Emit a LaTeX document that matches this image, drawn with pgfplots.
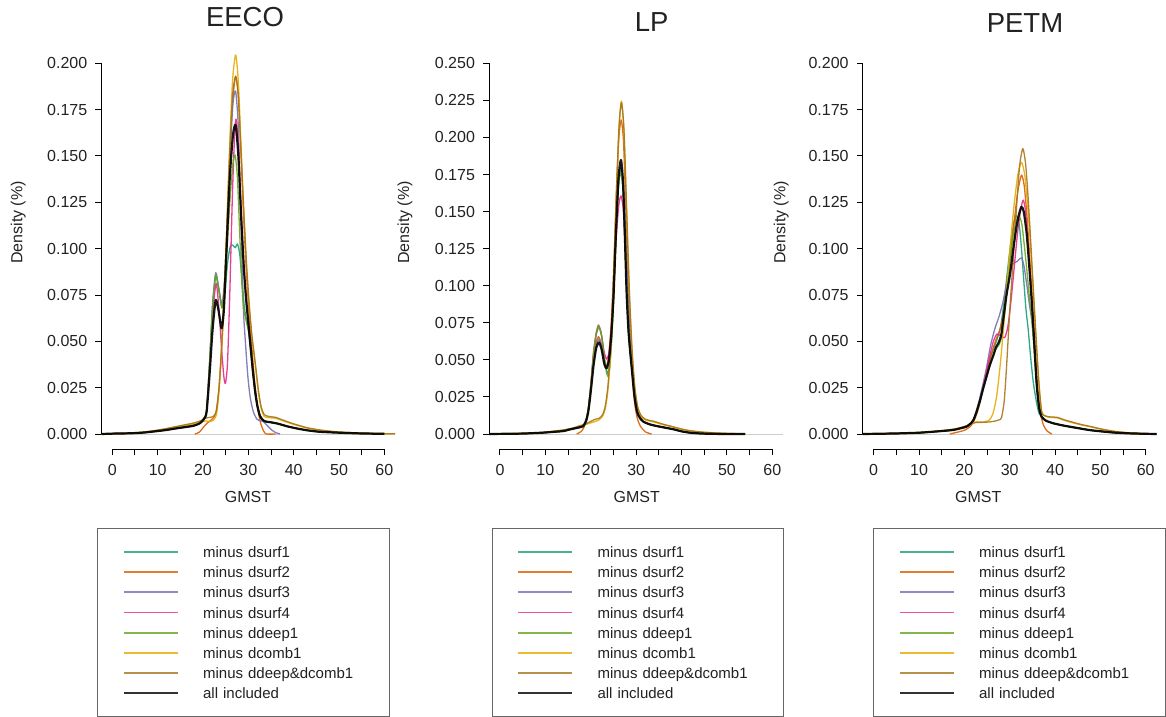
\documentclass[border=0pt]{standalone}
\usepackage{fontspec}
\setmainfont{Liberation Sans}
\usepackage{pgfplots}
\pgfplotsset{compat=1.18}
\definecolor{d1}{HTML}{1B9E77}
\definecolor{d2}{HTML}{D95F02}
\definecolor{d3}{HTML}{7570B3}
\definecolor{d4}{HTML}{E7298A}
\definecolor{d5}{HTML}{66A61E}
\definecolor{d6}{HTML}{E6AB02}
\definecolor{d7}{HTML}{A6761D}
\definecolor{txt}{HTML}{222222}
\pgfplotsset{
 rp/.style={
  scale only axis, height=408pt, anchor=south west,
  xmin=-2.4, xmax=62.4,
  axis x line*=bottom, axis y line*=left,
  axis line style={draw=none},
  tick style={draw=black, line width=1pt},
  tick align=outside,
  major tick length=6pt, minor tick length=6pt,
  xtick={0,10,20,30,40,50,60}, minor xtick={5,15,25,35,45,55},
  scaled y ticks=false,
  ticklabel style={font=\fontsize{16}{19}\selectfont, text=txt, inner sep=0pt},
  xticklabel style={yshift=-8.5pt},
  yticklabel style={xshift=-8pt, /pgf/number format/.cd, fixed, fixed zerofill, precision=3},
  /pgf/number format/assume math mode=true,
  xlabel={GMST}, ylabel={Density (\%)},
  clip=false,
  legend cell align=left,
  legend style={anchor=north west, draw=black!60, line width=0.9pt,
    inner xsep=0pt, inner ysep=16pt, row sep=5.2pt, column sep=24.5pt,
    font=\fontsize{15}{18}\selectfont, text=txt,
    nodes={inner sep=0pt, text height=13pt, text depth=2pt, text width=186pt, align=left}},
  legend image code/.code={\path[draw=none,fill=none] (0pt,-7.5pt) rectangle (80pt,7.5pt);
     \draw[#1, line width=1.8pt, opacity=0.8] (26pt,0pt) -- (80pt,0pt);},
  every axis plot/.append style={smooth, tension=0.4, line width=1.3pt, opacity=0.9, line join=round},
 }
}
\begin{document}
\begin{tikzpicture}
\useasboundingbox (0,0) rectangle (1166pt,-716pt);
%%%%%%%%%%%%%%%%%%%%%%%% EECO
\begin{axis}[rp, at={(101.45pt,-449.3pt)}, width=293.76pt,
  ymin=-0.008255, ymax=0.21187,
  ytick={0,0.025,0.05,0.075,0.1,0.125,0.15,0.175,0.2},
  title={EECO},
  every axis title/.style={at={(axis description cs:0.4887,1.0583)}, anchor=center, font=\fontsize{27.5}{32}\selectfont, text=txt},
  every axis x label/.style={at={(axis description cs:0.499,-0.116)}, anchor=center, font=\fontsize{16}{19}\selectfont, text=txt},
  every axis y label/.style={at={(axis description cs:-0.283,0.556)}, rotate=90, anchor=center, font=\fontsize{16}{19}\selectfont, text=txt},
  legend style={at={(axis description cs:-0.0141,-0.1929)}}]
\addplot[gray!45, line width=0.8pt, forget plot] coordinates {(-2.4,0) (62.4,0)};
% minus dsurf1
\addplot[d1] coordinates {(-2.4,0)(0,0.0002)(4,0.0004)(7,0.0008)(10,0.0017)(12,0.0023)(14,0.0032)(16,0.004)(18,0.0048)(19.3,0.006)(20.2,0.0085)(20.8,0.013)(21.5,0.04)(22.1,0.068)(22.8,0.0855)(23.4,0.079)(24.2,0.068)(24.8,0.075)(25.4,0.092)(26.0,0.101)(26.5,0.102)(27.1,0.1005)(27.6,0.1025)(28.1,0.097)(28.6,0.083)(29.1,0.069)(29.6,0.061)(30.1,0.055)(30.6,0.044)(31.1,0.032)(31.6,0.021)(32.1,0.014)(32.7,0.009)(33.5,0.007)(35,0.0063)(36.5,0.0056)(38.5,0.0042)(40.7,0.003)(43,0.002)(45.8,0.0012)(50.2,0.0007)(55,0.0003)(60,0.0001)};
% minus dsurf2
\addplot[d2] coordinates {(18.2,0)(19.2,0.001)(20.2,0.004)(21,0.006)(22,0.008)(22.8,0.011)(23.5,0.024)(24.2,0.05)(25,0.09)(25.8,0.14)(26.5,0.178)(27.2,0.193)(27.8,0.182)(28.4,0.15)(29.0,0.115)(29.6,0.086)(30.2,0.064)(30.8,0.046)(31.4,0.028)(32.0,0.015)(32.7,0.006)(33.4,0.0015)(34,0)(36,0)};
% minus dsurf3
\addplot[d3] coordinates {(-2.4,0)(0,0.0002)(4,0.0004)(7,0.0008)(10,0.0016)(12,0.0022)(14,0.003)(16,0.0038)(18,0.0046)(19.3,0.0059)(20.2,0.0085)(20.8,0.013)(21.5,0.041)(22.1,0.07)(22.8,0.087)(23.4,0.08)(24.2,0.07)(24.8,0.085)(25.4,0.115)(26.0,0.152)(26.6,0.178)(27.2,0.185)(27.8,0.165)(28.4,0.112)(28.9,0.068)(29.4,0.048)(29.9,0.031)(30.4,0.02)(31.1,0.012)(31.9,0.008)(32.6,0.0072)(33.3,0.0068)(34,0.005)(35,0.0025)(36,0.0008)(37,0)};
% minus dsurf4
\addplot[d4] coordinates {(-2.4,0)(0,0.0002)(4,0.0004)(7,0.0008)(10,0.0016)(12,0.0022)(14,0.003)(16,0.0037)(18,0.0045)(19.3,0.0058)(20.2,0.008)(20.8,0.012)(21.5,0.036)(22.2,0.066)(22.9,0.0813)(23.5,0.068)(24.1,0.046)(24.6,0.031)(24.95,0.0273)(25.4,0.038)(25.9,0.075)(26.5,0.13)(27.0,0.163)(27.3,0.1698)(27.8,0.156)(28.4,0.122)(29.0,0.092)(29.5,0.075)(30.0,0.061)(30.5,0.048)(31.0,0.035)(31.5,0.024)(32.0,0.016)(32.6,0.01)(33.5,0.007)(35,0.0063)(36.5,0.0056)(38.5,0.0042)(40.7,0.003)(43,0.002)(45.8,0.0012)(50.2,0.0007)(55,0.0003)(60,0.0001)};
% minus ddeep1
\addplot[d5] coordinates {(-2.4,0)(0,0.0002)(4,0.0004)(7,0.0008)(10,0.0017)(12,0.0023)(14,0.0032)(16,0.004)(18,0.0048)(19.3,0.006)(20.2,0.0085)(20.8,0.013)(21.5,0.04)(22.1,0.068)(22.8,0.086)(23.4,0.079)(24.2,0.068)(24.8,0.08)(25.4,0.104)(26.0,0.128)(26.6,0.146)(27.1,0.1505)(27.6,0.138)(28.1,0.108)(28.6,0.08)(29.0,0.067)(29.4,0.0625)(30.0,0.056)(30.5,0.045)(31.0,0.033)(31.5,0.022)(32.0,0.015)(32.6,0.0095)(33.5,0.007)(35,0.0063)(36.5,0.0056)(38.5,0.0042)(40.7,0.003)(43,0.002)(45.8,0.0012)(50.2,0.0007)(55,0.0003)(60,0.0001)};
% minus dcomb1
\addplot[d6] coordinates {(-2.4,0)(0,0.0002)(4,0.0005)(7,0.001)(10,0.002)(12,0.0028)(14,0.0038)(16,0.0046)(18,0.0055)(19.5,0.0065)(20.5,0.007)(21.5,0.0068)(22.3,0.0075)(23,0.011)(23.6,0.025)(24.2,0.05)(25,0.095)(25.8,0.15)(26.5,0.19)(27.2,0.2045)(27.8,0.19)(28.4,0.155)(29,0.12)(29.6,0.09)(30.2,0.068)(30.8,0.052)(31.5,0.038)(32.2,0.023)(32.8,0.014)(33.5,0.0095)(34.5,0.0088)(36,0.0085)(38,0.0068)(40,0.0052)(43,0.0032)(46,0.002)(50,0.001)(55,0.0005)(60,0.0002)(62.4,0.0001)};
% minus ddeep&dcomb1
\addplot[d7] coordinates {(-2.4,0)(0,0.0002)(4,0.0005)(7,0.0011)(10,0.0021)(12,0.003)(14,0.004)(16,0.005)(18,0.006)(19.5,0.0072)(20.5,0.0085)(21.5,0.009)(22.3,0.0095)(23,0.013)(23.6,0.027)(24.2,0.052)(25,0.095)(25.8,0.147)(26.5,0.182)(27.2,0.193)(27.8,0.182)(28.4,0.152)(29,0.12)(29.6,0.092)(30.2,0.07)(30.8,0.053)(31.5,0.039)(32.2,0.024)(32.8,0.015)(33.5,0.0105)(34.5,0.0095)(36,0.009)(38,0.0072)(40,0.0055)(43,0.0034)(46,0.0021)(50,0.0011)(55,0.0005)(60,0.0002)(62.4,0.0001)};
% all included
\addplot[black, line width=2.2pt] coordinates {(-2.4,0)(0,0.0002)(4,0.0004)(7,0.0008)(10,0.0016)(12,0.0022)(14,0.003)(16,0.0037)(18,0.0045)(19.3,0.0058)(20.2,0.008)(20.8,0.012)(21.5,0.034)(22.1,0.056)(22.8,0.0723)(23.4,0.067)(24.1,0.057)(24.6,0.067)(25.2,0.100)(25.9,0.138)(26.6,0.161)(27.2,0.1667)(27.8,0.150)(28.4,0.118)(29.0,0.090)(29.5,0.073)(30.0,0.060)(30.5,0.047)(31.0,0.034)(31.5,0.023)(32.0,0.015)(32.6,0.0095)(33.5,0.007)(35,0.0063)(36.5,0.0056)(38.5,0.0042)(40.7,0.003)(43,0.002)(45.8,0.0012)(50.2,0.0007)(55,0.0003)(60,0.0001)};
\legend{minus dsurf1,minus dsurf2,minus dsurf3,minus dsurf4,minus ddeep1,minus dcomb1,minus ddeep\&dcomb1,all included}
\draw[black, line width=1pt] (axis cs:-2.4,0) -- (axis cs:-2.4,0.2);
\draw[black, line width=1pt] (axis cs:0,-0.008255) -- (axis cs:60,-0.008255);
\end{axis}
%%%%%%%%%%%%%%%%%%%%%%%% LP
\begin{axis}[rp, at={(489.1pt,-449.3pt)}, width=294.1pt,
  ymin=-0.010318, ymax=0.264837,
  ytick={0,0.025,0.05,0.075,0.1,0.125,0.15,0.175,0.2,0.225,0.25},
  title={LP},
  every axis title/.style={at={(axis description cs:0.553,1.0473)}, anchor=center, font=\fontsize{27.5}{32}\selectfont, text=txt},
  every axis x label/.style={at={(axis description cs:0.502,-0.116)}, anchor=center, font=\fontsize{16}{19}\selectfont, text=txt},
  every axis y label/.style={at={(axis description cs:-0.286,0.556)}, rotate=90, anchor=center, font=\fontsize{16}{19}\selectfont, text=txt},
  legend style={at={(axis description cs:0.0088,-0.1929)}}]
\addplot[gray!45, line width=0.8pt, forget plot] coordinates {(-2.4,0) (62.4,0)};
% minus dsurf1
\addplot[d1] coordinates {(-2.4,0)(0,0.0001)(5,0.0003)(9.4,0.0009)(12,0.0015)(14,0.002)(15,0.0028)(16,0.0035)(17.5,0.0045)(18.35,0.0055)(19,0.01)(19.5,0.018)(20.05,0.034)(20.6,0.053)(21.2,0.067)(21.8,0.072)(22.4,0.066)(23,0.052)(23.6,0.041)(24.1,0.046)(24.6,0.066)(25.1,0.098)(25.6,0.14)(26.2,0.172)(26.7,0.179)(27.2,0.16)(27.6,0.125)(28,0.09)(28.4,0.066)(28.8,0.052)(29.2,0.04)(29.7,0.025)(30.3,0.015)(30.9,0.011)(31.6,0.0083)(33,0.0065)(34.5,0.0054)(36,0.0045)(38.2,0.0032)(40,0.0018)(41.85,0.0009)(44,0.0004)(47,0.0001)(54,0)};
% minus dsurf2
\addplot[d2] coordinates {(16.9,0)(18,0.002)(18.7,0.006)(19.3,0.013)(19.9,0.028)(20.5,0.048)(21.1,0.061)(21.7,0.0656)(22.3,0.061)(22.9,0.05)(23.5,0.046)(24,0.054)(24.5,0.075)(25.1,0.115)(25.7,0.168)(26.2,0.2)(26.7,0.2118)(27.2,0.198)(27.7,0.155)(28.2,0.105)(28.7,0.065)(29.2,0.038)(29.7,0.02)(30.3,0.01)(31,0.005)(32,0.0015)(33.4,0)};
% minus dsurf3
\addplot[d3] coordinates {(-2.4,0)(0,0.0001)(5,0.0003)(9.4,0.0009)(12,0.0015)(14,0.002)(15,0.0028)(16,0.0035)(17.5,0.0045)(18.35,0.0054)(19,0.009)(19.5,0.016)(20.05,0.031)(20.6,0.048)(21.2,0.06)(21.8,0.064)(22.4,0.059)(23,0.048)(23.5,0.045)(24,0.05)(24.5,0.066)(25,0.092)(25.5,0.13)(26.1,0.168)(26.75,0.179)(27.3,0.165)(27.8,0.125)(28.3,0.088)(28.8,0.06)(29.3,0.038)(29.8,0.022)(30.4,0.013)(31,0.0095)(31.6,0.0083)(33,0.0065)(34.5,0.0054)(36,0.0045)(38.2,0.0032)(40,0.0018)(41.85,0.0009)(44,0.0004)(47,0.0001)(54,0)};
% minus dsurf4
\addplot[d4] coordinates {(-2.4,0)(0,0.0001)(5,0.0003)(9.4,0.0009)(12,0.0015)(14,0.002)(15,0.0028)(16,0.0035)(17.5,0.0045)(18.35,0.0055)(19,0.01)(19.5,0.018)(20.05,0.035)(20.6,0.055)(21.2,0.068)(21.7,0.0735)(22.3,0.068)(22.9,0.056)(23.5,0.0505)(24,0.055)(24.5,0.07)(25,0.095)(25.6,0.132)(26.2,0.155)(26.7,0.1605)(27.2,0.15)(27.6,0.122)(28,0.09)(28.4,0.066)(28.8,0.052)(29.2,0.04)(29.7,0.025)(30.3,0.015)(30.9,0.011)(31.6,0.0083)(33,0.0065)(34.5,0.0054)(36,0.0045)(38.2,0.0032)(40,0.0018)(41.85,0.0009)(44,0.0004)(47,0.0001)(54,0)};
% minus ddeep1
\addplot[d5] coordinates {(-2.4,0)(0,0.0001)(5,0.0003)(9.4,0.0009)(12,0.0015)(14,0.002)(15,0.0028)(16,0.0035)(17.5,0.0045)(18.35,0.0055)(19,0.01)(19.5,0.018)(20.05,0.034)(20.6,0.054)(21.2,0.068)(21.75,0.073)(22.4,0.066)(23,0.05)(23.7,0.039)(24.2,0.045)(24.7,0.068)(25.2,0.103)(25.7,0.145)(26.2,0.17)(26.7,0.1758)(27.2,0.16)(27.6,0.125)(28,0.09)(28.4,0.066)(28.8,0.052)(29.2,0.04)(29.7,0.025)(30.3,0.015)(30.9,0.011)(31.6,0.0083)(33,0.0065)(34.5,0.0054)(36,0.0045)(38.2,0.0032)(40,0.0018)(41.85,0.0009)(44,0.0004)(47,0.0001)(54,0)};
% minus dcomb1
\addplot[d6] coordinates {(-2.4,0)(0,0.0001)(5,0.0004)(9.4,0.001)(12,0.0018)(14,0.0026)(16,0.0038)(17.5,0.005)(19,0.0065)(20,0.0075)(21,0.0085)(21.8,0.0095)(22.6,0.012)(23.2,0.017)(23.8,0.03)(24.4,0.056)(25,0.1)(25.6,0.155)(26.2,0.205)(26.75,0.2245)(27.3,0.205)(27.9,0.15)(28.5,0.095)(29.1,0.055)(29.7,0.03)(30.3,0.018)(31,0.012)(32,0.0095)(34,0.008)(36,0.0062)(38,0.0048)(40,0.0032)(42,0.0021)(45,0.0011)(50,0.0004)(54,0.0001)};
% minus ddeep&dcomb1
\addplot[d7] coordinates {(-2.4,0)(0,0.0001)(5,0.0004)(9.4,0.0011)(12,0.002)(14,0.0028)(16,0.004)(17.5,0.0055)(19,0.007)(20,0.0085)(21,0.01)(21.8,0.0105)(22.6,0.013)(23.2,0.019)(23.8,0.033)(24.4,0.06)(25,0.103)(25.6,0.158)(26.2,0.206)(26.75,0.2235)(27.3,0.206)(27.9,0.152)(28.5,0.097)(29.1,0.057)(29.7,0.032)(30.3,0.019)(31,0.013)(32,0.01)(34,0.0085)(36,0.0066)(38,0.005)(40,0.0034)(42,0.0022)(45,0.0012)(50,0.0004)(54,0.0001)};
% all included
\addplot[black, line width=2.2pt] coordinates {(-2.4,0)(0,0.0001)(5,0.0003)(9.4,0.0009)(12,0.0015)(14,0.002)(15,0.0028)(16,0.0035)(17.5,0.0045)(18.35,0.0054)(19,0.009)(19.5,0.016)(20.05,0.03)(20.6,0.046)(21.2,0.058)(21.8,0.0618)(22.4,0.057)(23,0.047)(23.5,0.0443)(24,0.05)(24.5,0.066)(25,0.092)(25.5,0.132)(26.1,0.172)(26.65,0.1848)(27.1,0.170)(27.5,0.135)(27.9,0.095)(28.3,0.07)(28.7,0.055)(29.1,0.042)(29.6,0.026)(30.2,0.015)(30.8,0.011)(31.6,0.0083)(33,0.0065)(34.5,0.0054)(36,0.0045)(38.2,0.0032)(40,0.0018)(41.85,0.0009)(44,0.0004)(47,0.0001)(54,0)};
\legend{minus dsurf1,minus dsurf2,minus dsurf3,minus dsurf4,minus ddeep1,minus dcomb1,minus ddeep\&dcomb1,all included}
\draw[black, line width=1pt] (axis cs:-2.4,0) -- (axis cs:-2.4,0.25);
\draw[black, line width=1pt] (axis cs:0,-0.010318) -- (axis cs:60,-0.010318);
\end{axis}
%%%%%%%%%%%%%%%%%%%%%%%% PETM
\begin{axis}[rp, at={(862.8pt,-449.3pt)}, width=293.76pt,
  ymin=-0.008255, ymax=0.21187,
  ytick={0,0.025,0.05,0.075,0.1,0.125,0.15,0.175,0.2},
  title={PETM},
  every axis title/.style={at={(axis description cs:0.552,1.044)}, anchor=center, font=\fontsize{27.5}{32}\selectfont, text=txt},
  every axis x label/.style={at={(axis description cs:0.393,-0.116)}, anchor=center, font=\fontsize{16}{19}\selectfont, text=txt},
  every axis y label/.style={at={(axis description cs:-0.278,0.556)}, rotate=90, anchor=center, font=\fontsize{16}{19}\selectfont, text=txt},
  legend style={at={(axis description cs:0.0357,-0.1929)}}]
\addplot[gray!45, line width=0.8pt, forget plot] coordinates {(-2.4,0) (62.4,0)};
% minus dsurf1
\addplot[d1] coordinates {(-2.4,0)(0,0.0001)(5,0.0003)(10,0.0007)(12.4,0.0011)(15,0.0016)(17.6,0.0022)(19,0.003)(20.5,0.004)(21.3,0.0055)(22,0.0075)(22.7,0.012)(23.45,0.019)(24.2,0.026)(24.9,0.033)(25.6,0.04)(26.4,0.046)(27.2,0.051)(28,0.058)(28.8,0.072)(29.6,0.09)(30.4,0.106)(31,0.115)(31.5,0.118)(32.1,0.113)(32.6,0.1)(33.1,0.083)(33.6,0.067)(34.1,0.056)(34.6,0.042)(35.2,0.028)(35.95,0.0166)(36.5,0.011)(37.06,0.0093)(38,0.0072)(39.6,0.0058)(42,0.0045)(45.5,0.003)(48,0.002)(52.9,0.0008)(57,0.0003)(62.4,0)};
% minus dsurf2
\addplot[d2] coordinates {(16.8,0)(18.5,0.001)(20,0.002)(21.3,0.004)(22.2,0.0075)(23,0.013)(23.8,0.021)(24.6,0.03)(25.4,0.038)(26.2,0.045)(27,0.051)(27.8,0.056)(28.6,0.064)(29.4,0.079)(30.2,0.097)(31,0.115)(31.8,0.131)(32.6,0.1397)(33.2,0.134)(33.8,0.118)(34.4,0.096)(35,0.072)(35.6,0.046)(36.2,0.024)(36.8,0.011)(37.5,0.0045)(38.3,0.0015)(39.3,0)};
% minus dsurf3
\addplot[d3] coordinates {(-2.4,0)(0,0.0001)(5,0.0003)(10,0.0007)(12.4,0.0011)(15,0.0016)(17.6,0.0022)(19,0.003)(20.5,0.004)(21.3,0.0055)(22,0.008)(22.7,0.013)(23.45,0.02)(24.2,0.028)(24.9,0.036)(25.8,0.048)(26.75,0.057)(27.6,0.063)(28.5,0.071)(29.3,0.081)(30,0.088)(30.8,0.092)(31.6,0.093)(32.2,0.0945)(32.7,0.0948)(33.2,0.09)(33.8,0.08)(34.4,0.069)(34.95,0.06)(35.5,0.044)(35.95,0.027)(36.5,0.014)(37.06,0.0093)(38,0.0072)(39.6,0.0058)(42,0.0045)(45.5,0.003)(48,0.002)(52.9,0.0008)(57,0.0003)(62.4,0)};
% minus dsurf4
\addplot[d4] coordinates {(-2.4,0)(0,0.0001)(5,0.0003)(10,0.0007)(12.4,0.0011)(15,0.0016)(17.6,0.0022)(19,0.003)(20.5,0.004)(21.3,0.0055)(22,0.0075)(22.7,0.012)(23.4,0.018)(24.2,0.026)(24.9,0.034)(25.6,0.042)(26.4,0.05)(27.2,0.054)(28.0,0.053)(28.9,0.052)(29.6,0.058)(30.3,0.072)(31.0,0.09)(31.8,0.11)(32.5,0.122)(33.0,0.1262)(33.5,0.12)(34.1,0.1)(34.7,0.078)(35.3,0.052)(35.95,0.027)(36.5,0.014)(37.06,0.0093)(38,0.0072)(39.6,0.0058)(42,0.0045)(45.5,0.003)(48,0.002)(52.9,0.0008)(57,0.0003)(62.4,0)};
% minus ddeep1
\addplot[d5] coordinates {(-2.4,0)(0,0.0001)(5,0.0003)(10,0.0007)(12.4,0.0011)(15,0.0016)(17.6,0.0022)(19,0.003)(20.5,0.004)(21.3,0.0055)(22,0.0075)(22.7,0.012)(23.45,0.018)(24.2,0.025)(24.9,0.031)(25.6,0.037)(26.4,0.0425)(27,0.046)(27.6,0.048)(28.2,0.052)(28.8,0.064)(29.5,0.08)(30.2,0.096)(30.9,0.109)(31.6,0.116)(32.2,0.117)(32.7,0.113)(33.3,0.1)(33.8,0.088)(34.3,0.075)(34.85,0.062)(35.4,0.045)(35.95,0.026)(36.5,0.014)(37.06,0.0093)(38,0.0072)(39.6,0.0058)(42,0.0045)(45.5,0.003)(48,0.002)(52.9,0.0008)(57,0.0003)(62.4,0)};
% minus dcomb1
\addplot[d6] coordinates {(-2.4,0)(0,0.0001)(5,0.0003)(10,0.0008)(12.4,0.0012)(15,0.0018)(17.6,0.0026)(19,0.0033)(20.5,0.0045)(21.5,0.0058)(22.7,0.0066)(24,0.0064)(25.5,0.0075)(26.3,0.011)(27.1,0.02)(27.9,0.037)(28.6,0.056)(29.4,0.08)(30.1,0.101)(30.9,0.122)(31.8,0.14)(32.6,0.1466)(33.3,0.14)(33.9,0.125)(34.5,0.105)(35.2,0.076)(35.95,0.045)(36.5,0.025)(37.06,0.012)(37.8,0.0097)(39,0.009)(40.5,0.0087)(42,0.0074)(44,0.006)(46,0.0048)(48,0.0038)(50,0.0027)(53,0.0014)(56,0.0007)(60,0.0002)(62.4,0.0001)};
% minus ddeep&dcomb1
\addplot[d7] coordinates {(-2.4,0)(0,0.0001)(5,0.0003)(10,0.0008)(12.4,0.0012)(15,0.0018)(17.6,0.0026)(19,0.0033)(20.5,0.0045)(21.5,0.0056)(22.7,0.0062)(24,0.0063)(25.5,0.0065)(26.8,0.007)(27.6,0.0076)(28.2,0.0088)(28.8,0.018)(29.3,0.036)(30.1,0.07)(30.8,0.095)(31.5,0.122)(32.2,0.145)(32.9,0.154)(33.5,0.146)(34.0,0.13)(34.5,0.11)(35.2,0.079)(35.95,0.047)(36.5,0.026)(37.06,0.012)(37.8,0.0098)(39,0.0092)(40.5,0.009)(42,0.0077)(44,0.0063)(46,0.005)(48,0.004)(50,0.0028)(53,0.0015)(56,0.0007)(60,0.0002)(62.4,0.0001)};
% all included
\addplot[black, line width=2.2pt] coordinates {(-2.4,0)(0,0.0001)(5,0.0003)(10,0.0007)(12.4,0.0011)(15,0.0016)(17.6,0.0022)(19,0.003)(20.5,0.004)(21.3,0.0055)(22,0.0075)(22.7,0.012)(23.45,0.018)(24.2,0.025)(24.9,0.031)(25.6,0.037)(26.4,0.0425)(27,0.047)(27.5,0.049)(28.1,0.053)(28.6,0.062)(29.3,0.075)(30.1,0.0867)(30.8,0.1)(31.5,0.1118)(32.1,0.119)(32.6,0.1226)(33.1,0.12)(33.75,0.108)(34.3,0.091)(34.85,0.072)(35.4,0.05)(35.95,0.027)(36.5,0.014)(37.06,0.0093)(38,0.0072)(39.6,0.0058)(42,0.0045)(45.5,0.003)(48,0.002)(52.9,0.0008)(57,0.0003)(62.4,0)};
\legend{minus dsurf1,minus dsurf2,minus dsurf3,minus dsurf4,minus ddeep1,minus dcomb1,minus ddeep\&dcomb1,all included}
\draw[black, line width=1pt] (axis cs:-2.4,0) -- (axis cs:-2.4,0.2);
\draw[black, line width=1pt] (axis cs:0,-0.008255) -- (axis cs:60,-0.008255);
\end{axis}
\end{tikzpicture}
\end{document}
